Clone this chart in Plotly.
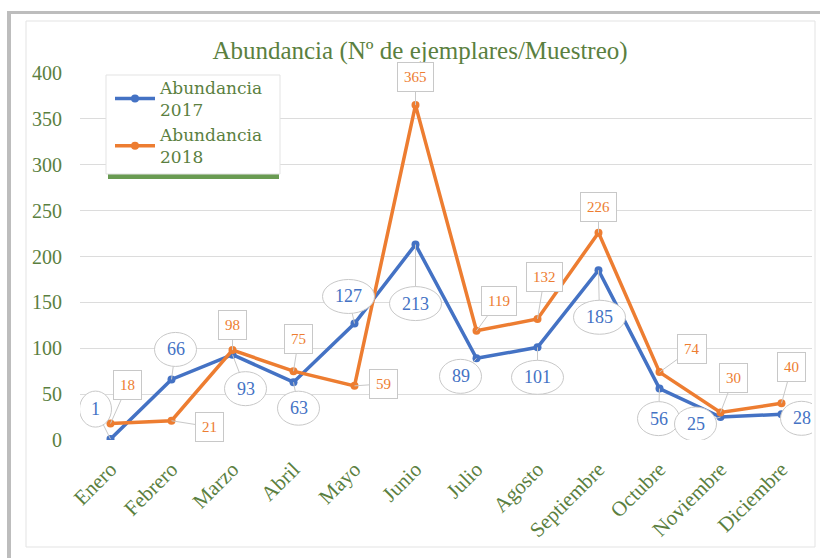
import plotly.graph_objects as go

months = ["Enero", "Febrero", "Marzo", "Abril", "Mayo", "Junio", "Julio",
          "Agosto", "Septiembre", "Octubre", "Noviembre", "Diciembre"]
abund_2017 = [1, 66, 93, 63, 127, 213, 89, 101, 185, 56, 25, 28]
abund_2018 = [18, 21, 98, 75, 59, 365, 119, 132, 226, 74, 30, 40]

# label offsets (pixels, +down) for callouts
off_2017 = [(-15, -30), (4, -30), (13, 34), (5, 26), (-6, -27), (0, 59),
            (-16, 18), (0, 30), (1, 47), (-1, 30), (-25, 7), (20, 4)]
off_2018 = [(17, -38), (38, 6), (0, -25), (5, -32), (29, -2), (0, -28),
            (22, -30), (7, -42), (0, -26), (32, -23), (13, -34), (10, -36)]

BLUE = "#4472C4"
ORANGE = "#ED7D31"
GREEN = "#5b7f3f"
SERIF = "Liberation Serif, Times New Roman, serif"
SERIF_WIDE = "DejaVu Serif, serif"

W, H = 820, 558
L, R, T, B = 80, 8, 73, 118
PW = W - L - R
PH = H - T - B


def px2paper(px, py):
    return (px - L) / PW, (H - B - py) / PH


x = list(range(len(months)))

fig = go.Figure()
fig.add_trace(go.Scatter(x=x, y=abund_2017, mode="lines+markers",
                         name="Abundancia<br>2017",
                         line=dict(color=BLUE, width=3.5),
                         marker=dict(size=8, color=BLUE)))
fig.add_trace(go.Scatter(x=x, y=abund_2018, mode="lines+markers",
                         name="Abundancia<br>2018",
                         line=dict(color=ORANGE, width=3.5),
                         marker=dict(size=8, color=ORANGE)))

shapes = []
annotations = []

# blue callouts: tail lines first, then ellipses, then text
for i, (v, (dx, dy)) in enumerate(zip(abund_2017, off_2017)):
    shapes.append(dict(type="line", xref="x", yref="y", xsizemode="pixel",
                       ysizemode="pixel", xanchor=i, yanchor=v,
                       x0=0, y0=0, x1=dx, y1=-dy, layer="above",
                       line=dict(color="#c8c8c8", width=1)))
for i, (v, (dx, dy)) in enumerate(zip(abund_2017, off_2017)):
    n = len(str(v))
    ew = 22 + 10 * n
    eh = 36 if n == 1 else 34
    shapes.append(dict(type="circle", xref="x", yref="y", xsizemode="pixel",
                       ysizemode="pixel", xanchor=i, yanchor=v,
                       x0=dx - ew / 2, x1=dx + ew / 2,
                       y0=-dy - eh / 2, y1=-dy + eh / 2, layer="above",
                       fillcolor="white", line=dict(color="#c8c8c8", width=1)))
    annotations.append(dict(x=i, y=v, xref="x", yref="y", text=str(v),
                            showarrow=False, xshift=dx, yshift=-dy,
                            font=dict(family=SERIF, size=18, color=BLUE)))

for i, (v, (dx, dy)) in enumerate(zip(abund_2018, off_2018)):
    annotations.append(dict(x=i, y=v, xref="x", yref="y", text=str(v),
                            showarrow=True, ax=dx, ay=dy, arrowhead=0,
                            arrowwidth=1, arrowcolor="#c8c8c8", standoff=0,
                            bgcolor="white", bordercolor="#c8c8c8",
                            borderwidth=1, borderpad=6,
                            font=dict(family=SERIF, size=15, color=ORANGE)))

# frame: outer gray border lines
x0, y0 = px2paper(7, 11)
x1, y1 = px2paper(820, 14)
shapes.append(dict(type="rect", xref="paper", yref="paper", x0=x0, y0=y0,
                   x1=x1, y1=y1, fillcolor="#bdbdbd", line=dict(width=0),
                   layer="below"))
x0, y0 = px2paper(7, 11)
x1, y1 = px2paper(11, 558)
shapes.append(dict(type="rect", xref="paper", yref="paper", x0=x0, y0=y0,
                   x1=x1, y1=y1, fillcolor="#bdbdbd", line=dict(width=0),
                   layer="below"))
# inner panel border
x0, y0 = px2paper(26, 21)
x1, y1 = px2paper(815, 547)
shapes.append(dict(type="rect", xref="paper", yref="paper", x0=x0, y0=y0,
                   x1=x1, y1=y1, line=dict(color="#e3e3e3", width=1),
                   layer="below"))
# legend shadow and box
x0, y0 = px2paper(108, 172)
x1, y1 = px2paper(279, 179)
shapes.append(dict(type="rect", xref="paper", yref="paper", x0=x0, y0=y0,
                   x1=x1, y1=y1, fillcolor="#4f8a34", opacity=0.85,
                   line=dict(width=0), layer="above"))
x0, y0 = px2paper(106, 75)
x1, y1 = px2paper(280, 174)
shapes.append(dict(type="rect", xref="paper", yref="paper", x0=x0, y0=y0,
                   x1=x1, y1=y1, fillcolor="white",
                   line=dict(color="#e3e3e3", width=1), layer="above"))

lx, ly = px2paper(110, 70)

fig.update_layout(
    width=W, height=H,
    margin=dict(l=L, r=R, t=T, b=B),
    paper_bgcolor="white", plot_bgcolor="white",
    title=dict(text="Abundancia (Nº de ejemplares/Muestreo)",
               x=420 / W, xanchor="center", xref="container",
               y=1 - 50 / H, yanchor="middle", yref="container",
               font=dict(family=SERIF, size=25, color=GREEN)),
    xaxis=dict(range=[-0.5, 11.5], tickmode="array", tickvals=x,
               ticktext=months, tickangle=-45, showgrid=False,
               zeroline=False, showline=False, ticks="",
               ticklabelstandoff=12,
               tickfont=dict(family=SERIF, size=21, color=GREEN)),
    yaxis=dict(range=[0, 400], dtick=50, showgrid=True, gridcolor="#dcdcdc",
               gridwidth=1, zeroline=False, showline=False, ticks="",
               ticklabelstandoff=17,
               tickfont=dict(family=SERIF, size=20, color=GREEN)),
    legend=dict(x=lx, y=ly, xanchor="left", yanchor="top",
                bgcolor="rgba(0,0,0,0)", borderwidth=0,
                font=dict(family=SERIF_WIDE, size=17, color=GREEN),
                itemwidth=40, tracegroupgap=0),
    showlegend=True,
    shapes=shapes,
    annotations=annotations,
)

fig.write_html("out.html",
               config={"displayModeBar": False},
               post_script="document.body.style.margin='0';"
                           "document.body.style.overflow='hidden';")
